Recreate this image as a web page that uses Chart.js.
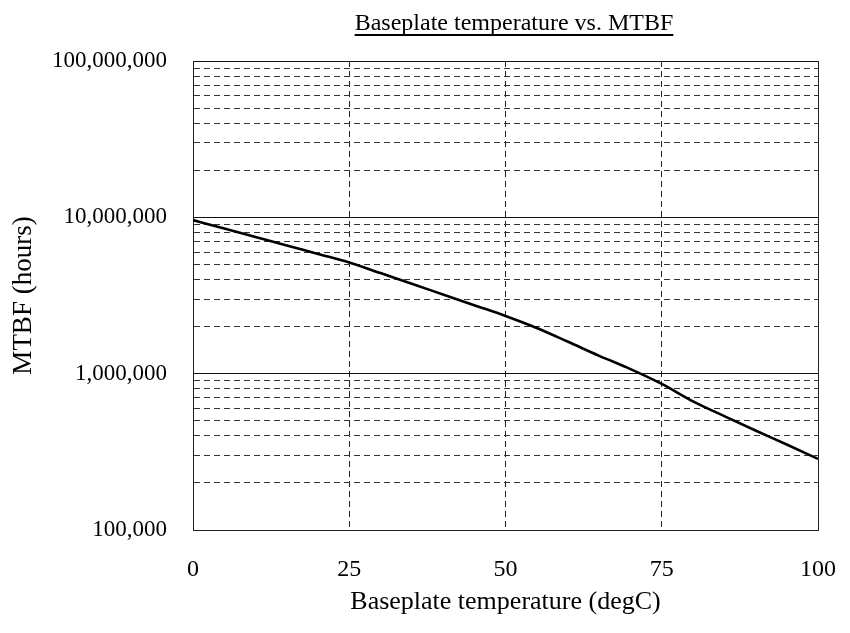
<!DOCTYPE html>
<html lang="en">
<head>
<meta charset="UTF-8">
<title>Baseplate temperature vs. MTBF</title>
<script src="https://cdn.jsdelivr.net/npm/chart.js"></script>
<style>
  html, body { margin: 0; padding: 0; background: #fff; }
  #wrap { width: 850px; height: 633px; }
</style>
</head>
<body>
<div id="wrap"><canvas id="mtbfChart"></canvas></div>
<script>
  // data
  const temps = [0, 5, 10, 15, 20, 25, 30, 35, 40, 45, 50, 55, 60, 65, 70, 75, 80, 85, 90, 95, 100];
  const mtbfHours = [9600000, 8470000, 7480000, 6610000, 5830000, 5150000, 4400000, 3760000, 3210000,
                     2740000, 2340000, 1960000, 1600000, 1300000, 1070000, 860000, 665000, 535000,
                     433000, 352000, 285000];
  const xTicks = [0, 25, 50, 75, 100];
  const yDecades = [100000, 1000000, 10000000, 100000000];

  const titleText = 'Baseplate temperature vs. MTBF';
  const serif = '"Liberation Serif", "Times New Roman", serif';

  function isDecade(v) {
    return yDecades.includes(v);
  }

  // title with underline, centred over the plot
  const underlinedTitle = {
    id: 'underlinedTitle',
    afterDraw(chart) {
      const ctx = chart.ctx;
      ctx.save();
      ctx.font = '24px ' + serif;
      ctx.fillStyle = '#000';
      ctx.textAlign = 'center';
      ctx.textBaseline = 'alphabetic';
      const cx = 514, y = 30;
      ctx.fillText(titleText, cx, y);
      const w = ctx.measureText(titleText).width;
      ctx.fillRect(cx - w / 2, y + 4, w, 2);
      ctx.restore();
    }
  };

  new Chart(document.getElementById('mtbfChart').getContext('2d'), {
    type: 'line',
    data: {
      labels: temps,
      datasets: [{
        label: 'MTBF',
        data: temps.map((t, i) => ({ x: t, y: mtbfHours[i] })),
        borderColor: '#000',
        borderWidth: 2.6,
        pointRadius: 0,
        cubicInterpolationMode: 'monotone',
        fill: false
      }]
    },
    options: {
      responsive: true,
      maintainAspectRatio: false,
      animation: false,
      layout: { padding: { top: 61, right: 32, left: 0, bottom: 0 } },
      plugins: {
        legend: { display: false },
        title: { display: false },
        tooltip: { enabled: false }
      },
      scales: {
        x: {
          type: 'linear',
          min: 0,
          max: 100,
          afterBuildTicks: scale => { scale.ticks = xTicks.map(v => ({ value: v })); },
          afterFit: scale => {
            scale.height = 103;
            scale.paddingLeft = 0;
            scale.paddingRight = 0;
          },
          ticks: {
            padding: 25,
            color: '#000',
            font: { family: serif, size: 24 },
            callback: v => String(v)
          },
          grid: {
            drawTicks: false,
            color: '#222',
            lineWidth: 1
          },
          border: {
            display: true,
            color: '#222',
            width: 1,
            dash: ctx => (ctx.tick && ctx.tick.value > 0 && ctx.tick.value < 100) ? [6, 4] : []
          },
          title: {
            display: true,
            text: 'Baseplate temperature (degC)',
            color: '#000',
            font: { family: serif, size: 26 },
            padding: { top: 0, bottom: 15 }
          }
        },
        y: {
          type: 'logarithmic',
          min: 100000,
          max: 100000000,
          afterBuildTicks: scale => {
            const list = [];
            for (let d = 100000; d < 100000000; d *= 10) {
              for (let m = 1; m < 10; m++) list.push({ value: d * m });
            }
            list.push({ value: 100000000 });
            scale.ticks = list;
          },
          afterFit: scale => { scale.width = 193; },
          ticks: {
            padding: 26,
            color: '#000',
            autoSkip: false,
            font: { family: serif, size: 23 },
            callback: v => isDecade(v) ? v.toLocaleString('en-US') : ''
          },
          grid: {
            drawTicks: false,
            color: ctx => (ctx.tick && isDecade(ctx.tick.value)) ? '#111' : '#333',
            lineWidth: 1
          },
          border: {
            display: true,
            color: '#222',
            width: 1,
            dash: ctx => (ctx.tick && !isDecade(ctx.tick.value)) ? [6, 4] : []
          },
          title: {
            display: true,
            text: 'MTBF (hours)',
            color: '#000',
            font: { family: serif, size: 27 },
            padding: { top: 8, bottom: 0 }
          }
        }
      }
    },
    plugins: [underlinedTitle]
  });
</script>
</body>
</html>
